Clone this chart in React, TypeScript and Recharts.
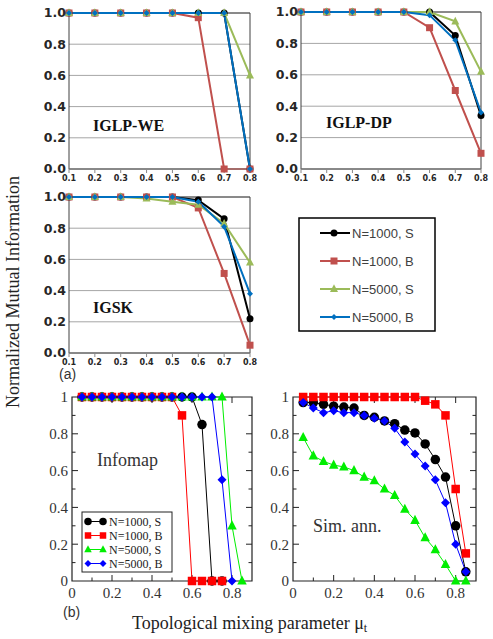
import React from 'react';
import { LineChart, Line, XAxis, YAxis, CartesianGrid, ReferenceArea, ReferenceLine } from 'recharts';

// ---------- data ----------
const topX = [0.1, 0.2, 0.3, 0.4, 0.5, 0.6, 0.7, 0.8];
const topYTicks = [0, 0.2, 0.4, 0.6, 0.8, 1];

const weS1000 = [1, 1, 1, 1, 1, 1, 1, 0];
const weB1000 = [1, 1, 1, 1, 1, 0.97, 0, 0];
const weS5000 = [1, 1, 1, 1, 1, 1, 1, 0.6];
const weB5000 = [1, 1, 1, 1, 1, 1, 1, 0];

const dpS1000 = [1, 1, 1, 1, 1, 1, 0.85, 0.34];
const dpB1000 = [1, 1, 1, 1, 1, 0.9, 0.5, 0.1];
const dpS5000 = [1, 1, 1, 1, 1, 1, 0.94, 0.62];
const dpB5000 = [1, 1, 1, 1, 1, 0.98, 0.82, 0.36];

const skS1000 = [1, 1, 1, 1, 1, 0.98, 0.86, 0.22];
const skB1000 = [1, 1, 1, 1, 1, 0.93, 0.51, 0.05];
const skS5000 = [1, 1, 1, 0.99, 0.97, 0.95, 0.83, 0.58];
const skB5000 = [1, 1, 1, 1, 1, 0.97, 0.81, 0.38];

const botX = [0.05, 0.1, 0.15, 0.2, 0.25, 0.3, 0.35, 0.4, 0.45, 0.5, 0.55, 0.6, 0.65, 0.7, 0.75, 0.8, 0.85];
const botXTicks = [0, 0.2, 0.4, 0.6, 0.8];
const botYTicks = [0, 0.2, 0.4, 0.6, 0.8, 1];
const botMinorX = [0.1, 0.3, 0.5, 0.7];
const botMinorY = [0.1, 0.3, 0.5, 0.7, 0.9];
const botMajorXInner = [0.2, 0.4, 0.6, 0.8];
const botMajorYInner = [0.2, 0.4, 0.6, 0.8];

const imS1000 = [1, 1, 1, 1, 1, 1, 1, 1, 1, 1, 1, 1, 0.85, 0, 0, null, null];
const imB1000 = [1, 1, 1, 1, 1, 1, 1, 1, 1, 1, 0.9, 0, 0, 0, 0, null, null];
const imS5000 = [1, 1, 1, 1, 1, 1, 1, 1, 1, 1, 1, 1, 1, 1, 1, 0.3, 0];
const imB5000 = [1, 1, 1, 1, 1, 1, 1, 1, 1, 1, 1, 1, 1, 1, 0.55, 0, null];

const saS1000 = [0.97, 0.97, 0.96, 0.95, 0.945, 0.94, 0.9, 0.89, 0.87, 0.855, 0.82, 0.805, 0.745, 0.66, 0.565, 0.3, 0.05];
const saB1000 = [1, 1, 1, 1, 1, 1, 1, 1, 1, 1, 1, 1, 0.98, 0.96, 0.9, 0.5, 0.15];
const saS5000 = [0.78, 0.68, 0.65, 0.63, 0.62, 0.6, 0.565, 0.545, 0.5, 0.465, 0.39, 0.33, 0.235, 0.17, 0.09, 0, 0];
const saB5000 = [0.97, 0.94, 0.915, 0.925, 0.915, 0.915, 0.9, 0.885, 0.87, 0.83, 0.755, 0.69, 0.625, 0.55, 0.425, 0.2, 0.05];

const seriesKeys = ['s1', 'b1', 's5', 'b5'];
const seriesNames = ['N=1000, S', 'N=1000, B', 'N=5000, S', 'N=5000, B'];
const seriesShapes = ['circle', 'square', 'triangle', 'diamond'];
const topColors = ['#000000', '#C0504D', '#9BBB59', '#0070C0'];
const botColors = ['#000000', '#FF0000', '#00EE00', '#0000FF'];
const topSizes = [7, 7, 8, 6];
const botSizes = [9.5, 8.5, 9.5, 9];

// ---------- helpers ----------
function buildRows(xs: number[], cols: (number | null)[][]) {
  return xs.map((x, i) => {
    const row: any = { x };
    seriesKeys.forEach((k, j) => {
      row[k] = cols[j][i];
    });
    return row;
  });
}

function shapeEl(shape: string, cx: number, cy: number, s: number, color: string) {
  if (shape === 'circle') return <circle cx={cx} cy={cy} r={s / 2} fill={color} />;
  if (shape === 'square') return <rect x={cx - s / 2} y={cy - s / 2} width={s} height={s} fill={color} />;
  if (shape === 'triangle')
    return (
      <polygon
        points={`${cx},${cy - s * 0.58} ${cx - s / 2},${cy + s * 0.38} ${cx + s / 2},${cy + s * 0.38}`}
        fill={color}
      />
    );
  return (
    <polygon points={`${cx},${cy - s / 2} ${cx + s / 2},${cy} ${cx},${cy + s / 2} ${cx - s / 2},${cy}`} fill={color} />
  );
}

const makeDot = (shape: string, size: number, color: string) => (p: any) => {
  const { cx, cy, index, value } = p;
  if (value == null || cx == null || cy == null || isNaN(cx) || isNaN(cy)) return <g key={`d${index}`} />;
  return <g key={`d${index}`}>{shapeEl(shape, cx, cy, size, color)}</g>;
};

const fmt1 = (v: number) => v.toFixed(1);

// ---------- top panel ----------
function TopPanel(props: { left: number; top: number; width: number; mTop: number; plotH: number; rows: any[] }) {
  const { left, top, width, mTop, plotH, rows } = props;
  const height = mTop + plotH + 21;
  return (
    <div style={{ position: 'absolute', left, top }}>
      <LineChart width={width} height={height} data={rows} margin={{ top: mTop, right: 10, left: 0, bottom: 0 }}>
        <CartesianGrid vertical={false} stroke="#A6A6A6" strokeWidth={1} />
        <XAxis
          dataKey="x"
          type="number"
          domain={[0.1, 0.8]}
          ticks={topX}
          height={21}
          tickSize={4}
          tickMargin={2}
          tickLine={{ stroke: '#888' }}
          axisLine={{ stroke: '#888' }}
          tickFormatter={fmt1}
          tick={{ fontSize: 8, fontWeight: 'bold', fill: '#262626', fontFamily: 'DejaVu Sans' }}
          interval={0}
        />
        <YAxis
          type="number"
          domain={[0, 1]}
          ticks={topYTicks}
          width={49}
          tickSize={0}
          tickMargin={3}
          axisLine={false}
          tickLine={false}
          tickFormatter={fmt1}
          tick={{ fontSize: 12.5, fontWeight: 'bold', fill: '#262626', fontFamily: 'DejaVu Sans' }}
          interval={0}
        />
        <ReferenceArea x1={0.1} x2={0.8} y1={0} y2={1} fill="none" stroke="#404040" strokeWidth={1} ifOverflow="visible" />
        {seriesKeys.map((k, i) => (
          <Line
            key={k}
            dataKey={k}
            stroke={topColors[i]}
            strokeWidth={2}
            isAnimationActive={false}
            dot={makeDot(seriesShapes[i], topSizes[i], topColors[i])}
            activeDot={false}
          />
        ))}
      </LineChart>
    </div>
  );
}

// ---------- bottom panel ----------
function BottomPanel(props: { left: number; top: number; plotW: number; rows: any[] }) {
  const { left, top, plotW, rows } = props;
  const yW = 52;
  const width = yW + plotW + 8;
  const mTop = 12;
  const plotH = 184;
  const height = mTop + plotH + 26;
  const ux = 0.9 / plotW;
  const uy = 1 / plotH;
  const major = 6;
  const minor = 3.5;
  const tickFont = { fontSize: 15, fill: '#333', fontFamily: 'Liberation Serif, Times New Roman, serif' };
  const segs: any[] = [];
  botMajorXInner.forEach((v) => {
    segs.push([{ x: v, y: 0 }, { x: v, y: major * uy }]);
    segs.push([{ x: v, y: 1 }, { x: v, y: 1 - major * uy }]);
  });
  botMinorX.forEach((v) => {
    segs.push([{ x: v, y: 0 }, { x: v, y: minor * uy }]);
    segs.push([{ x: v, y: 1 }, { x: v, y: 1 - minor * uy }]);
  });
  botMajorYInner.forEach((v) => {
    segs.push([{ x: 0, y: v }, { x: major * ux, y: v }]);
    segs.push([{ x: 0.9, y: v }, { x: 0.9 - major * ux, y: v }]);
  });
  botMinorY.forEach((v) => {
    segs.push([{ x: 0, y: v }, { x: minor * ux, y: v }]);
    segs.push([{ x: 0.9, y: v }, { x: 0.9 - minor * ux, y: v }]);
  });
  return (
    <div style={{ position: 'absolute', left, top }}>
      <LineChart width={width} height={height} data={rows} margin={{ top: mTop, right: 8, left: 0, bottom: 0 }}>
        <XAxis
          dataKey="x"
          type="number"
          domain={[0, 0.9]}
          ticks={botXTicks}
          height={26}
          tickSize={0}
          tickMargin={6}
          tickLine={false}
          axisLine={false}
          tickFormatter={(v: number) => String(v)}
          tick={tickFont}
          interval={0}
        />
        <YAxis
          type="number"
          domain={[0, 1]}
          ticks={botYTicks}
          width={yW}
          tickSize={0}
          tickMargin={4}
          axisLine={false}
          tickLine={false}
          tickFormatter={(v: number) => String(v)}
          tick={tickFont}
          interval={0}
        />
        {segs.map((s, i) => (
          <ReferenceLine key={`t${i}`} segment={s} stroke="#222" strokeWidth={1} ifOverflow="visible" />
        ))}
        <ReferenceArea x1={0} x2={0.9} y1={0} y2={1} fill="none" stroke="#222" strokeWidth={1.2} ifOverflow="visible" />
        {seriesKeys.map((k, i) => (
          <Line
            key={k}
            dataKey={k}
            stroke={botColors[i]}
            strokeWidth={1}
            isAnimationActive={false}
            dot={makeDot(seriesShapes[i], botSizes[i], botColors[i])}
            activeDot={false}
            connectNulls={false}
          />
        ))}
      </LineChart>
    </div>
  );
}

// ---------- app ----------
export default function App() {
  const weRows = buildRows(topX, [weS1000, weB1000, weS5000, weB5000]);
  const dpRows = buildRows(topX, [dpS1000, dpB1000, dpS5000, dpB5000]);
  const skRows = buildRows(topX, [skS1000, skB1000, skS5000, skB5000]);
  const imRows = buildRows(botX, [imS1000, imB1000, imS5000, imB5000]);
  const saRows = buildRows(botX, [saS1000, saB1000, saS5000, saB5000]);
  const serif = 'Liberation Serif, Times New Roman, serif';
  const sans = 'Liberation Sans, Arial, sans-serif';

  return (
    <div style={{ position: 'absolute', left: 0, top: 0, width: 493, height: 639, background: '#fff', overflow: 'hidden' }}>
      <TopPanel left={20} top={0} width={240} mTop={13} plotH={156} rows={weRows} />
      <TopPanel left={252} top={0} width={239} mTop={12} plotH={157} rows={dpRows} />
      <TopPanel left={20} top={184} width={240} mTop={13} plotH={156} rows={skRows} />
      <BottomPanel left={20} top={385} plotW={180} rows={imRows} />
      <BottomPanel left={241} top={385} plotW={183} rows={saRows} />

      <svg width={493} height={639} style={{ position: 'absolute', left: 0, top: 0, pointerEvents: 'none' }}>
        {/* top panel titles */}
        <text x={93} y={125} dominantBaseline="central" fontFamily={serif} fontWeight="bold" fontSize={16} fill="#111">
          IGLP-WE
        </text>
        <text x={326} y={122} dominantBaseline="central" fontFamily={serif} fontWeight="bold" fontSize={16} fill="#111">
          IGLP-DP
        </text>
        <text x={93} y={307} dominantBaseline="central" fontFamily={serif} fontWeight="bold" fontSize={16} fill="#111">
          IGSK
        </text>

        {/* top legend */}
        <rect x={299} y={218} width={136} height={113} fill="#fff" stroke="#000" strokeWidth={1.5} />
        {seriesNames.map((n, i) => {
          const cy = 233 + i * 28;
          return (
            <g key={n}>
              <line x1={320} x2={350} y1={cy} y2={cy} stroke={topColors[i]} strokeWidth={2} />
              {shapeEl(seriesShapes[i], 334, cy, topSizes[i], topColors[i])}
              <text x={352} y={cy} dominantBaseline="central" fontFamily={sans} fontSize={13} fill="#404040">
                {n}
              </text>
            </g>
          );
        })}

        <text x={59} y={374} dominantBaseline="central" fontFamily={sans} fontSize={14} fill="#333">
          (a)
        </text>
        <text x={63} y={612} dominantBaseline="central" fontFamily={sans} fontSize={14} fill="#333">
          (b)
        </text>

        {/* bottom panel labels */}
        <text x={97} y={460} dominantBaseline="central" fontFamily={serif} fontSize={18} fill="#333">
          Infomap
        </text>
        <text x={313} y={526} dominantBaseline="central" fontFamily={serif} fontSize={18} fill="#333">
          Sim. ann.
        </text>

        {/* infomap legend */}
        <rect x={82} y={512} width={90} height={60} fill="#fff" stroke="#222" strokeWidth={1} />
        {seriesNames.map((n, i) => {
          const cy = 521.5 + i * 14;
          return (
            <g key={`b${n}`}>
              <line x1={88} x2={103} y1={cy} y2={cy} stroke={botColors[i]} strokeWidth={1} />
              {shapeEl(seriesShapes[i], 88, cy, botSizes[i] - 2, botColors[i])}
              {shapeEl(seriesShapes[i], 103, cy, botSizes[i] - 2, botColors[i])}
              <text x={109} y={cy} dominantBaseline="central" fontFamily={serif} fontSize={12} fill="#222">
                {n}
              </text>
            </g>
          );
        })}

        {/* axis titles */}
        <text
          x={13}
          y={292}
          transform="rotate(-90 13 292)"
          textAnchor="middle"
          dominantBaseline="central"
          fontFamily={serif}
          fontSize={18}
          fill="#222"
        >
          Normalized Mutual Information
        </text>
        <text x={132} y={623} dominantBaseline="central" fontFamily={serif} fontSize={18} fill="#222">
          Topological mixing parameter μ
          <tspan fontSize={12} dy={5}>t</tspan>
        </text>
      </svg>
    </div>
  );
}
